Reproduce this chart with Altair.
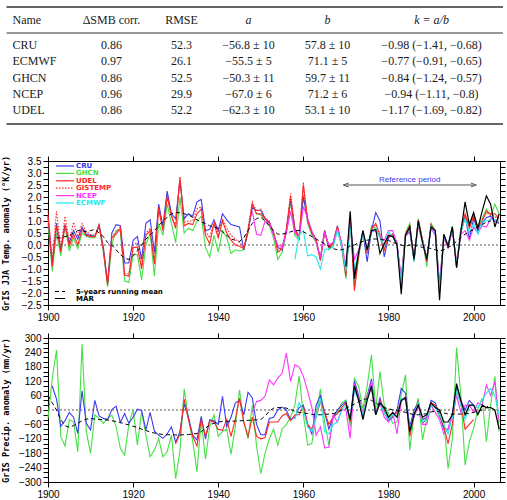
import altair as alt
import pandas as pd

# ---------------- table ----------------
TABLE_HEADERS = ["Name", "ΔSMB corr.", "RMSE", "a", "b", "k = a/b"]
TABLE_NAMES = ["CRU", "ECMWF", "GHCN", "NCEP", "UDEL"]
TABLE_SMB_CORR = ["0.86", "0.97", "0.86", "0.96", "0.86"]
TABLE_RMSE = ["52.3", "26.1", "52.5", "29.9", "52.2"]
TABLE_A = ["−56.8 ± 10", "−55.5 ± 5", "−50.3 ± 11", "−67.0 ± 6", "−62.3 ± 10"]
TABLE_B = ["57.8 ± 10", "71.1 ± 5", "59.7 ± 11", "71.2 ± 6", "53.1 ± 10"]
TABLE_K = ["−0.98 (−1.41, −0.68)", "−0.77 (−0.91, −0.65)", "−0.84 (−1.24, −0.57)",
           "−0.94 (−1.11, −0.8)", "−1.17 (−1.69, −0.82)"]

# ---------------- temperature anomalies (°K) ----------------
T_START = 1900
T_CRU = [1.2, -0.8, 0.9, -0.2, 0.85, 0.1, 0.6, 0.25, 0.75, 0.45,
         0.4, 0.35, 0.85, -0.1, -1.6, 0.5, 0.85, 0.8, -0.75, -0.75,
         0.2, 0.35, -0.6, 0.9, 1.05, -0.3, 1.7, 0.8, 2.25, 1.3,
         1.1, 2.7, 1.1, 1.3, 1.2, 1.8, 1.9, 0.6, 0.65, 1.05,
         0.6, 1.3, 1.05, 0.85, 0.8, 0.75, -0.2, 0.6, 1.55, 1.45,
         1.45, 1.1, 0.95, 0.5, -0.1, -0.2, 0.6, 1.9, 0.7, 0.3,
         2.0, 1.1, 0.5, 0.2, -0.55, 0.6, -0.1, 0.1, 0.8, 0.0,
         -1.1, 1.0, -1.2, -0.3, 0.5, -0.7, 0.6, 1.35, 1.0, -0.5,
         0.3, 0.45, 0.1, -1.8, 0.4, 0.55, -0.6, 0.95, 0.15, -0.55,
         0.8, 0.5, -2.0, 0.35, -0.05, 0.7, -0.8, 0.5, 1.2, 0.25,
         1.1, 0.6, 0.9, 1.15, 1.2, 1.0, 0.9]
T_GHCN = [0.9, -1.1, 0.5, -0.45, 0.8, -0.25, 0.3, -0.15, 0.5, 0.35,
          0.3, 0.3, 0.8, -0.3, -1.75, 0.0, 0.6, 0.6, -1.5, -1.55,
          -0.4, -0.4, -1.45, 0.0, 0.5, -1.3, 0.9, 0.4, 1.7, 0.9,
          0.1, 2.0, 0.5, 0.7, 0.6, 1.0, 1.2, -0.1, -0.5, 0.4,
          -0.3, 0.6, 0.3, -0.35, -0.2, -0.25, -0.2, 0.5, 1.7, 1.3,
          1.25, 1.0, 0.8, 0.3, -0.6, -0.3, 0.55, 1.8, 0.4, 0.2,
          2.1, 0.9, 0.4, 0.1, -0.6, 0.6, -0.2, 0.0, 0.7, -0.1,
          -1.4, 1.1, -1.7, -0.5, 0.6, -0.3, 0.8, 0.7, 0.3, -0.2,
          0.4, 0.4, 0.0, -1.4, 0.5, 0.9, -0.7, 1.1, 0.2, -0.9,
          0.9, 0.6, -1.6, 0.45, 0.0, 0.8, -0.9, 0.7, 1.2, 0.9,
          1.3, 0.75, 1.1, 1.5, 1.2, 1.7, 1.3]
T_UDEL = [1.2, -0.9, 0.8, -0.3, 0.85, -0.05, 0.45, 0.0, 0.65, 0.4,
          0.35, 0.35, 0.8, -0.2, -1.65, 0.3, 0.45, 0.7, -1.25, -1.3,
          -0.1, -0.1, -1.0, 0.4, 0.6, -0.8, 1.5, 0.6, 2.0, 1.2,
          0.7, 2.8, 0.8, 0.9, 0.85, 1.3, 1.5, 0.4, 0.05, 0.9,
          0.3, 1.0, 0.5, 0.2, 0.0, -0.05, -0.15, 0.55, 1.7, 1.3,
          1.3, 1.1, 0.9, 0.5, -0.3, -0.15, 0.6, 2.0, 0.6, 0.3,
          2.5, 1.0, 0.5, 0.2, -0.65, 0.55, -0.1, 0.05, 0.75, 0.0,
          -1.3, 1.2, -1.9, -0.4, 0.55, -0.35, 0.65, 0.9, 0.4, -0.2,
          0.35, 0.4, 0.0, -1.5, 0.45, 0.8, -0.65, 1.05, 0.2, -0.7,
          0.85, 0.55, -1.9, 0.35, -0.1, 0.75, -0.95, 0.6, 1.3, 0.7,
          1.2, 0.7, 1.0, 1.4, 1.3, 1.3, 1.1]
T_GISTEMP = [1.4, -0.6, 1.4, -0.1, 1.2, 0.15, 0.95, 0.35, 0.9, 0.55,
             0.45, 0.4, 0.85, -0.1, -1.55, 0.35, 0.55, 0.75, -1.2, -1.2,
             0.0, 0.1, -0.85, 0.5, 0.7, -0.6, 1.6, 0.7, 2.1, 1.25,
             0.8, 2.85, 0.95, 1.0, 1.0, 1.5, 1.6, 0.55, 0.3, 1.0,
             0.45, 1.1, 0.7, 0.4, 0.25, 0.1, -0.1, 0.7, 1.8, 1.4,
             1.5, 1.15, 1.0, 0.55, -0.2, -0.1, 0.7, 2.15, 0.7, 0.35,
             2.6, 1.05, 0.55, 0.25, -0.6, 0.6, -0.05, 0.1, 0.8, 0.05,
             -1.2, 1.15, -1.8, -0.35, 0.6, -0.3, 0.7, 0.85, 0.45, -0.15,
             0.4, 0.45, 0.05, -1.45, 0.5, 0.8, -0.6, 1.0, 0.25, -0.65,
             0.85, 0.6, -1.8, 0.4, -0.05, 0.75, -0.9, 0.6, 1.25, 0.75,
             1.25, 0.7, 1.05, 1.35, 1.25, 1.2, 1.0]
T_NCEP_START = 1948
T_NCEP = [1.4, 0.45, 0.4, 1.0, 0.9, 0.4, 0.0, -0.1, 0.5, 1.4,
          0.5, 0.3, 1.6, 1.1, 0.6, 0.1, -0.5, 0.5, 0.0, 0.1,
          0.65, 0.1, -0.9, 0.9, -0.6, -0.2, 0.45, -0.1, 0.55, 0.6,
          0.35, 0.2, 0.6, 0.6, 0.05, -1.4, 0.35, 0.6, -0.5, 0.8,
          0.1, -0.5, 0.7, 0.4, -1.6, 0.3, -0.1, 0.6, -0.7, 0.45,
          0.6, 0.2, 0.75, 0.5, 0.8, 0.75, 1.1, 1.0, 0.95]
T_ECMWF_START = 1958
T_ECMWF = [-0.6, 0.4, 0.6, -0.45, -0.4, -0.5, -1.0, -0.2, -0.15, -0.1,
           0.6, -0.05, -1.1, 0.8, -1.0, -0.3, 0.4, -0.2, 0.5, 0.7,
           0.3, 0.0, 0.55, 0.35, 0.0, -1.6, 0.4, 0.7, -0.7, 0.9,
           0.15, -0.6, 0.8, 0.5, -2.0, 0.4, 0.0, 0.7, -0.8, 0.55,
           1.1, 0.5, 0.9, 0.45, 1.0, 1.0, 1.05, 1.05, 1.0]
T_MAR_START = 1970
T_MAR = [-0.9, 1.4, -1.4, -0.3, 0.6, -0.2, 0.6, 0.65, -0.35, 0.05,
         0.4, 0.35, 0.0, -2.05, 0.4, 0.75, -0.6, 1.0, 0.1, -0.6,
         0.75, 0.6, -2.3, 0.45, -0.05, 0.75, -0.95, 0.55, 1.8, 0.85,
         1.35, 0.7, 1.4, 2.05, 1.7, 0.75, 1.3]
T_RMEAN_START = 1902
T_RMEAN = [0.3, 0.3, 0.35, 0.4, 0.5, 0.6, 0.6, 0.55, 0.6, 0.65,
           0.5, 0.35, 0.1, 0.0, -0.2, -0.4, -0.55, -0.6, -0.45, -0.25,
           0.0, 0.25, 0.4, 0.6, 0.8, 1.0, 1.15, 1.3, 1.35, 1.35,
           1.3, 1.25, 1.15, 1.05, 0.95, 0.9, 0.8, 0.75, 0.7, 0.55,
           0.4, 0.25, 0.2, 0.15, 0.3, 0.6, 0.9, 1.1, 1.15, 1.0,
           0.8, 0.6, 0.45, 0.45, 0.5, 0.55, 0.6, 0.6, 0.55, 0.45,
           0.35, 0.25, 0.15, 0.05, -0.05, -0.15, -0.2, -0.2, -0.15, -0.05,
           0.0, 0.1, 0.15, 0.2, 0.25, 0.25, 0.25, 0.2, 0.2, 0.1,
           0.05, 0.0, -0.05, 0.0, 0.0, -0.05, -0.1, -0.1, -0.15, -0.2,
           -0.25, -0.2, -0.1, 0.0, 0.15, 0.3, 0.45, 0.55, 0.65, 0.75,
           0.85, 0.95, 1.0]

# ---------------- precipitation anomalies (mm/yr) ----------------
P_GHCN_START = 1900
P_GHCN = [-35, 132, 250, -110, -150, -40, -50, -174, 275, -90,
          -181, -20, -35, -56, -35, -21, -70, -160, -188, -60,
          0, -146, -7, -105, -195, -167, -119, -195, -174, -105,
          -286, -170, 88, -35, -130, -258, -40, -205, -70, -20,
          -110, -90, -80, -185, -70, 84, -50, -119, 20, -150,
          -265, -180, -120, -80, -146, -80, -60, -30, 20, 142,
          -20, -146, -140, -20, 88, -50, -146, -30, -10, 30,
          42, -70, 132, 98, 5, 100, 230, 5, 160, 20,
          -15, -56, -50, 63, 146, -167, -20, 49, -125, -35,
          21, 15, -30, -50, -244, -120, 260, 63, -230, -132,
          -77, 5, 49, -132, 20, 140, -90]
P_CRU_START = 1901
P_CRU = [100, 45, -68, -45, -10, -30, -97, 80, -55,
         -83, 40, -25, -35, -40, 2, 16, -52, -15, -55,
         -30, 3, -3, -83, -10, -88, -105, -118, -100, -70,
         -135, -90, 25, -30, -105, -125, -26, -120, -40, -45,
         -60, 57, -70, -30, 29, 40, -20, 74, 50, -60,
         -103, -103, -35, -30, 0, 12, 0, -40, -30, 10,
         20, -60, -100, 20, 60, -10, -80, -30, 0, 20,
         35, -40, 120, 60, -30, 60, 130, -20, 50, -10,
         -45, -30, 0, 90, 70, -70, 0, 30, -40, -30,
         40, 30, -20, -80, -80, -20, 100, 40, 0, 40,
         20]
P_UDEL_START = 1930
P_UDEL = [-140, -100, 45, -40, -110, -150, -40, -110, -45, -50,
          -80, -85, -40, -110, -40, 50, -50, -110, -30, -110,
          -120, -115, -50, -50, -50, -25, -15, -45, -20, -20,
          15, -60, -80, -30, 35, -10, -60, -30, -15, 10,
          30, -50, 90, 50, -20, 60, 90, -20, 40, -5,
          -35, -25, -10, 40, 55, -110, -20, 35, -55, -35,
          30, 20, -20, -70, -140, -60, 80, 30, -80, -60,
          -40]
P_NCEP_START = 1948
P_NCEP = [-10, 35, 40, 57, 125, 105, 133, 153, 237, 119,
          188, 180, 140, 80, 10, -105, -70, -158, -155, -20,
          -50, 0, 0, -118, 110, 40, -10, 50, 120, -10,
          30, -30, -50, -10, -100, 40, 50, -80, -30, 20,
          -60, -60, 20, -10, -40, -100, -80, -20, 60, -10,
          20, 20, -10, 30, 20, 105, 60, 118, -50]
P_ECMWF_START = 1958
P_ECMWF = [-40, 30, 0, -70, -90, -30, 50, -90, -100, -60,
           -50, 0, 20, -40, 80, 40, -20, 50, 100, -20,
           30, -10, -40, -20, -30, 50, 40, -80, -20, 30,
           -50, -40, 20, 10, -20, -60, -100, -30, 80, 20,
           -40, 20, 20, 10, 40, 70, 90, 60, -20]
P_MAR_START = 1970
P_MAR = [30, -40, 100, 40, -40, 40, 100, -20, 30, 10,
         -30, -10, -30, 40, 50, -90, -20, 20, -30, -20,
         30, 10, 0, -50, -50, -20, 110, 40, -20, 20,
         20, -20, 20, 10, 10, 0, -80]
P_RMEAN_START = 1900
P_RMEAN = [60, 30, 0, -40, -65, -72, -65, -55, -45, -38,
           -35, -38, -40, -40, -42, -45, -48, -52, -58, -62,
           -68, -72, -80, -85, -92, -96, -99, -102, -103, -103,
           -104, -104, -103, -102, -100, -98, -90, -75, -62, -55,
           -50, -48, -47, -47, -46, -45, -44, -43, -42, -41,
           -40, -25, -5, 8, 10, 10, 8, 2, -5, -10,
           -12, -15, -18, -20, -20, -18, -17, -15, -10, 0,
           8, 15, 25, 35, 45, 46, 40, 30, 18, 10,
           5, 0, -2, -5, -10, -15, -20, -20, -18, -15,
           -8, -5, -8, -12, -17, -17, -17, -17, -16, -14,
           -10, -5, 0, 10, 25]

REF_PERIOD = [1970, 2000]
X_TICKS = [1900, 1920, 1940, 1960, 1980, 2000]

BLUE, GREEN, RED, MAGENTA, CYAN, BLACK = "#3a3af0", "#44e044", "#ff2626", "#ff33ff", "#22eaea", "#000000"
MONO = "DejaVu Sans Mono"
LEGFONT = "DejaVu Sans"


def series_df(start, values):
    return pd.DataFrame({"year": list(range(start, start + len(values))), "value": values})


# ---------------- table chart (origin = panels' plot origin) ----------------
rows = []
for ci, h in enumerate(TABLE_HEADERS):
    rows.append({"ci": ci, "ri": 0, "text": h, "kind": "hname" if ci == 0 else ("hit" if ci >= 3 else "h")})
cols = [TABLE_NAMES, TABLE_SMB_CORR, TABLE_RMSE, TABLE_A, TABLE_B, TABLE_K]
for ci, col in enumerate(cols):
    for r, t in enumerate(col):
        rows.append({"ci": ci, "ri": r + 1, "text": t, "kind": "name" if ci == 0 else "cell"})
tdf = pd.DataFrame(rows)

tx = alt.X("ci:Q", scale=alt.Scale(domain=[0, 1, 2, 3, 4, 5],
                                   range=[-35.5, 63.5, 133.5, 200.5, 279.5, 383.5],
                                   nice=False, zero=False), axis=None)
ty = alt.Y("ri:Q", scale=alt.Scale(domain=[0, 1, 5], range=[19, 44, 109], nice=False, zero=False), axis=None)

base_t = alt.Chart(tdf)
tfont = dict(font="Liberation Serif", fontSize=12, color="#1a1a1a", baseline="middle")
t_left = base_t.transform_filter("datum.kind == 'name' || datum.kind == 'hname'").mark_text(
    align="left", **tfont).encode(x=tx, y=ty, text="text:N")
t_cell = base_t.transform_filter("datum.kind == 'cell' || datum.kind == 'h'").mark_text(
    align="center", **tfont).encode(x=tx, y=ty, text="text:N")
t_ital = base_t.transform_filter("datum.kind == 'hit'").mark_text(
    align="center", fontStyle="italic", **tfont).encode(x=tx, y=ty, text="text:N")

dummy = pd.DataFrame({"d": [0]})
rule_top = alt.Chart(dummy).mark_rule(color="#333", strokeWidth=1.5).encode(
    x=alt.value(-41.5), x2=alt.value(455), y=alt.value(6))
rule_mid = alt.Chart(dummy).mark_rule(color="#333", strokeWidth=1).encode(
    x=alt.value(-41.5), x2=alt.value(455), y=alt.value(32))
rule_bot = alt.Chart(dummy).mark_rule(color="#333", strokeWidth=1.5).encode(
    x=alt.value(-41.5), x2=alt.value(455), y=alt.value(123))

table = alt.layer(rule_top, rule_mid, rule_bot, t_left, t_cell, t_ital).properties(
    width=452, height=143, view=alt.ViewBackground(stroke="transparent"))

# ---------------- panels ----------------
xscale = alt.Scale(domain=[1900, 2006.2], nice=False, zero=False)


def axis_common(**kw):
    d = dict(grid=False, domain=False, tickSize=5, tickColor="black", tickWidth=1,
             labelColor="black", labelFont="Liberation Sans", labelFontSize=10,
             labelOverlap=False)
    d.update(kw)
    return alt.Axis(**d)


def panel(series, ydomain, yticks, label_expr, ytitle, extra_layers):
    yscale = alt.Scale(domain=ydomain, nice=False, zero=False)
    layers = []
    first = True
    for df, color, dash, width in series:
        if first:
            xenc = alt.X("year:Q", scale=xscale, axis=axis_common(
                values=X_TICKS, format="d", title=None, labelFlush=False, labelPadding=2))
            yenc = alt.Y("value:Q", scale=yscale, axis=axis_common(
                values=yticks, labelExpr=label_expr, title=ytitle, titleFont=MONO,
                titleFontWeight="bold", titleFontSize=8.6, titleColor="black",
                titlePadding=7, minExtent=31, maxExtent=31, labelPadding=2))
            first = False
        else:
            xenc = alt.X("year:Q", scale=xscale, axis=None)
            yenc = alt.Y("value:Q", scale=yscale, axis=None)
        mk = dict(color=color, strokeWidth=width)
        if dash:
            mk["strokeDash"] = dash
        layers.append(alt.Chart(df).mark_line(**mk).encode(x=xenc, y=yenc))
    zero_df = pd.DataFrame({"year": [1900, 2006.2], "value": [0, 0]})
    zero = alt.Chart(zero_df).mark_line(color="#555555", strokeDash=[2, 2], strokeWidth=1).encode(
        x=alt.X("year:Q", scale=xscale, axis=axis_common(orient="top", values=X_TICKS, labels=False, title=None)),
        y=alt.Y("value:Q", scale=yscale, axis=axis_common(orient="right", values=yticks, labels=False, title=None)))
    layers.insert(0, zero)
    return alt.layer(*layers, *extra_layers).resolve_axis(x="independent", y="independent").properties(
        width=452, height=144)


# legend for panel 1 (drawn inside the plot like the original)
LEGEND_NAMES = ["CRU", "GHCN", "UDEL", "GISTEMP", "NCEP", "ECMWF"]
LEGEND_COLORS = [BLUE, GREEN, RED, RED, MAGENTA, CYAN]
LEGEND_DASH = [None, None, None, [1.5, 1.5], None, None]
leg = []
for i, (n, c, d) in enumerate(zip(LEGEND_NAMES, LEGEND_COLORS, LEGEND_DASH)):
    yy = 5 + 7.4 * i
    mk = dict(color=c, strokeWidth=1.2)
    if d:
        mk["strokeDash"] = d
    leg.append(alt.Chart(dummy).mark_rule(**mk).encode(x=alt.value(8), x2=alt.value(26), y=alt.value(yy)))
    leg.append(alt.Chart(dummy).mark_text(text=n, color=c, align="left", baseline="middle", font=LEGFONT,
                                          fontWeight="bold", fontSize=7).encode(x=alt.value(28), y=alt.value(yy)))
BOTTOM_NAMES = ["5-years running mean", "MAR"]
BOTTOM_DASH = [[4, 3], None]
for i, (n, d) in enumerate(zip(BOTTOM_NAMES, BOTTOM_DASH)):
    yy = 130.5 + 7 * i
    mk = dict(color="black", strokeWidth=1)
    if d:
        mk["strokeDash"] = d
    leg.append(alt.Chart(dummy).mark_rule(**mk).encode(x=alt.value(7), x2=alt.value(17), y=alt.value(yy)))
    leg.append(alt.Chart(dummy).mark_text(text=n, color="black", align="left", baseline="middle", font=LEGFONT,
                                          fontWeight="bold", fontSize=7).encode(x=alt.value(28), y=alt.value(yy)))

# reference-period arrow
ref_df = pd.DataFrame({"x0": [REF_PERIOD[0]], "x1": [REF_PERIOD[1]], "v": [2.5]})
ref_scale_y = alt.Scale(domain=[-2.5, 3.5], nice=False, zero=False)
arrow = alt.Chart(ref_df).mark_rule(color="#555", strokeWidth=1).encode(
    x=alt.X("x0:Q", scale=xscale, axis=None), x2="x1:Q", y=alt.Y("v:Q", scale=ref_scale_y, axis=None))
head_l = alt.Chart(ref_df).mark_point(shape="M 1 -0.7 L -1 0 L 1 0.7", filled=False, color="#555",
                                      size=30, strokeWidth=1, opacity=1).encode(
    x=alt.X("x0:Q", scale=xscale, axis=None), y=alt.Y("v:Q", scale=ref_scale_y, axis=None))
head_r = alt.Chart(ref_df).mark_point(shape="M -1 -0.7 L 1 0 L -1 0.7", filled=False, color="#555",
                                      size=30, strokeWidth=1, opacity=1).encode(
    x=alt.X("x1:Q", scale=xscale, axis=None), y=alt.Y("v:Q", scale=ref_scale_y, axis=None))
ref_text = alt.Chart(ref_df).transform_calculate(xm="(datum.x0 + datum.x1) / 2").mark_text(
    text="Reference period", color="#3a3af0", font="Liberation Sans", fontSize=8, baseline="bottom",
    dy=-1).encode(x=alt.X("xm:Q", scale=xscale, axis=None), y=alt.Y("v:Q", scale=ref_scale_y, axis=None))

temp_series = [
    (series_df(T_START, T_GHCN), GREEN, None, 1.1),
    (series_df(T_START, T_CRU), BLUE, None, 1.1),
    (series_df(T_START, T_UDEL), RED, None, 1.1),
    (series_df(T_START, T_GISTEMP), RED, [1.5, 1.5], 1.1),
    (series_df(T_NCEP_START, T_NCEP), MAGENTA, None, 1.1),
    (series_df(T_ECMWF_START, T_ECMWF), CYAN, None, 1.1),
    (series_df(T_MAR_START, T_MAR), BLACK, None, 1.2),
    (series_df(T_RMEAN_START, T_RMEAN), BLACK, [4, 3], 1),
]
T_TICKS = [round(-2.5 + 0.25 * i, 2) for i in range(25)]
p1 = panel(temp_series, [-2.5, 3.5], T_TICKS,
           "(round(datum.value * 100) % 50 == 0) ? format(datum.value, '.1f') : ''",
           "GrIS JJA Temp. anomaly (°K/yr)", leg + [arrow, head_l, head_r, ref_text])

prec_series = [
    (series_df(P_GHCN_START, P_GHCN), GREEN, None, 1.1),
    (series_df(P_CRU_START, P_CRU), BLUE, None, 1.1),
    (series_df(P_UDEL_START, P_UDEL), RED, None, 1.1),
    (series_df(P_NCEP_START, P_NCEP), MAGENTA, None, 1.1),
    (series_df(P_ECMWF_START, P_ECMWF), CYAN, None, 1.1),
    (series_df(P_MAR_START, P_MAR), BLACK, None, 1.2),
    (series_df(P_RMEAN_START, P_RMEAN), BLACK, [4, 3], 1),
]
P_TICKS = list(range(-300, 301, 20))
p2 = panel(prec_series, [-300, 300], P_TICKS,
           "(datum.value % 60 == 0) ? format(datum.value, 'd') : ''",
           "GrIS Precip. anomaly (mm/yr)", [])

chart = alt.vconcat(table, p1, p2, spacing=9).properties(
    padding={"left": 0, "top": 0, "right": 0, "bottom": 0}, background="white"
).configure_view(stroke="black", strokeWidth=1)

chart.save("out.html", embed_options={"renderer": "svg", "actions": False})
